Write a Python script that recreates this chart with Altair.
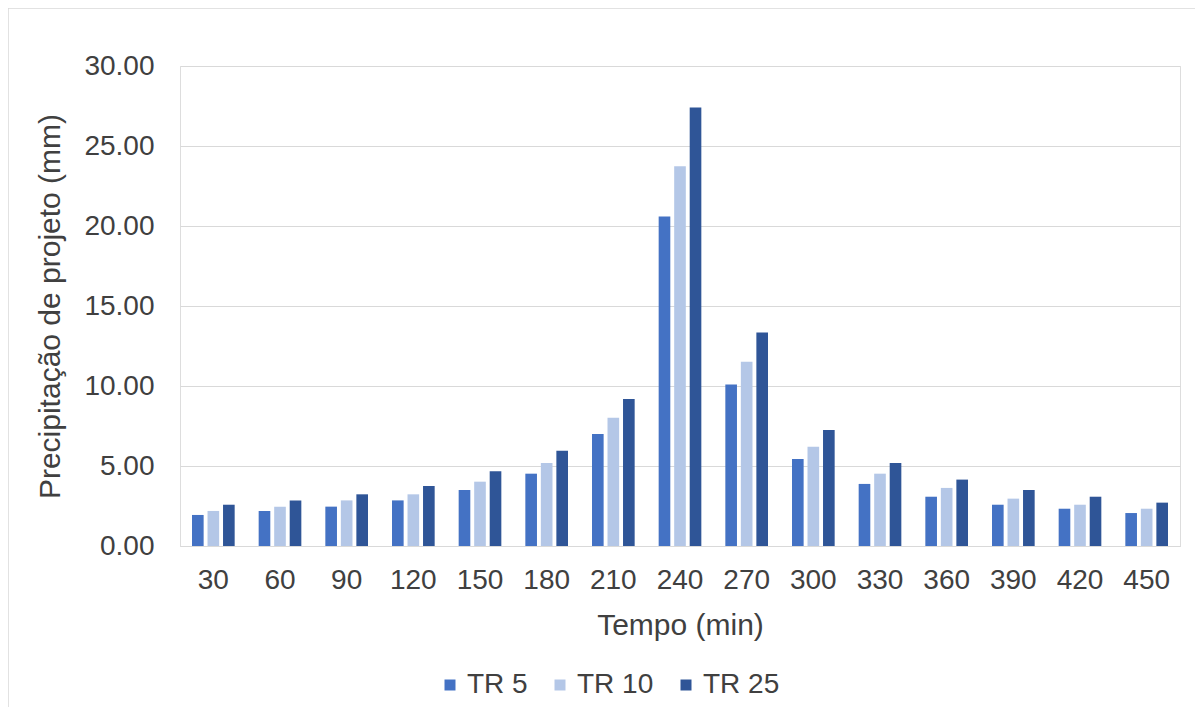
import altair as alt
import pandas as pd

tempo = ["30", "60", "90", "120", "150", "180", "210", "240", "270", "300", "330", "360", "390", "420", "450"]
series = ["TR 5", "TR 10", "TR 25"]
tr5 = [1.94, 2.19, 2.46, 2.85, 3.50, 4.52, 7.00, 20.60, 10.10, 5.44, 3.88, 3.08, 2.58, 2.33, 2.06]
tr10 = [2.19, 2.46, 2.85, 3.23, 4.02, 5.19, 8.02, 23.73, 11.52, 6.21, 4.52, 3.63, 2.96, 2.58, 2.33]
tr25 = [2.58, 2.85, 3.23, 3.75, 4.67, 5.96, 9.19, 27.40, 13.35, 7.25, 5.19, 4.15, 3.50, 3.08, 2.71]
colors = ["#4472C4", "#B4C7E7", "#2F5597"]

rows = []
for name, vals in zip(series, [tr5, tr10, tr25]):
    for t, v in zip(tempo, vals):
        rows.append({"Tempo": t, "Serie": name, "Valor": v})
df = pd.DataFrame(rows)

FONT = "Liberation Sans"
TXT = "#404040"
FS = 28
TFS = 30

bars = alt.Chart(df).mark_bar().encode(
    x=alt.X("Tempo:N", sort=tempo,
            scale=alt.Scale(paddingInner=0.36, paddingOuter=0.18),
            axis=alt.Axis(title="Tempo (min)", labelAngle=0, labelFontSize=FS, titleFontSize=TFS,
                          labelPadding=20, titlePadding=16, ticks=False,
                          domainColor="#d9d9d9", labelColor=TXT, titleColor=TXT,
                          labelFont=FONT, titleFont=FONT, titleFontWeight="normal")),
    xOffset=alt.XOffset("Serie:N", sort=series, scale=alt.Scale(paddingInner=0.25, paddingOuter=0)),
    y=alt.Y("Valor:Q", scale=alt.Scale(domain=[0, 30]),
            axis=alt.Axis(title="Precipitação de projeto (mm)", values=[0, 5, 10, 15, 20, 25, 30],
                          format=".2f", labelFontSize=FS, titleFontSize=TFS, labelPadding=26,
                          titlePadding=18, ticks=False, domain=False, gridColor="#d9d9d9",
                          labelColor=TXT, titleColor=TXT, labelFont=FONT, titleFont=FONT,
                          titleFontWeight="normal")),
    color=alt.Color("Serie:N", sort=series, scale=alt.Scale(domain=series, range=colors),
                    legend=alt.Legend(title=None, orient="none", direction="horizontal",
                                      legendX=256, legendY=605, symbolType="square",
                                      symbolSize=121, symbolStrokeWidth=0, labelFontSize=FS,
                                      labelFont=FONT, labelColor=TXT, columnPadding=18,
                                      labelOffset=3)),
)

frame = alt.Chart(pd.DataFrame({"k": [0]})).mark_rect(
    fill="transparent", stroke="#d9d9d9", strokeWidth=1.5
).encode(x=alt.value(-172), x2=alt.value(1040), y=alt.value(-58), y2=alt.value(700))

chart = alt.layer(frame, bars).properties(
    width=1000, height=480,
    autosize=alt.AutoSizeParams(type="none"),
    padding={"left": 172, "top": 58, "right": 15, "bottom": 161},
).configure_view(stroke=None).configure(background="white")

chart.save("out.html", embed_options={"renderer": "svg", "actions": False})
